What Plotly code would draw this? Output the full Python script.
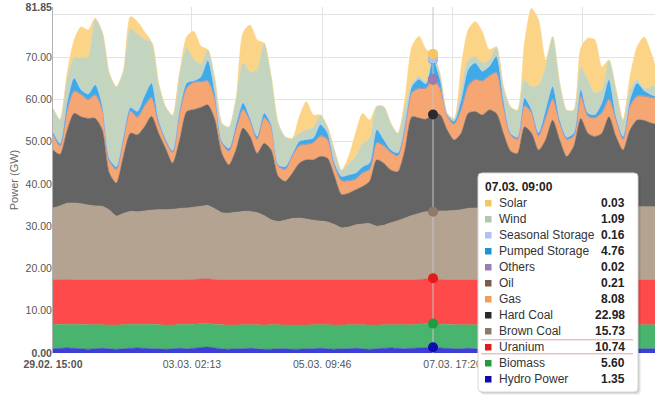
import numpy as np
import pandas as pd
import plotly.graph_objects as go

# ---------------- data (GW, 3-hourly from 29.02. 15:00) ----------------
START = "2020-02-29 15:00"
END = "2020-03-11 07:38"
N_POINTS = 87
times = pd.date_range(START, periods=N_POINTS, freq="3h")
CURSOR = 54  # 07.03. 09:00

hydro = [1.0, 1.1, 1.2, 1.1, 1.0, 0.9, 1.0, 1.1, 1.0, 0.9,
         1.0, 1.1, 1.2, 1.1, 1.0, 1.0, 0.9, 1.0, 1.1, 1.0,
         1.1, 1.3, 1.4, 1.2, 1.0, 0.9, 1.0, 1.0, 1.1, 1.0,
         0.9, 0.9, 1.0, 1.0, 0.9, 0.9, 1.0, 1.0, 1.1, 1.0,
         0.9, 1.0, 1.0, 1.1, 1.0, 0.9, 1.0, 1.1, 1.2, 1.1,
         1.0, 1.1, 1.2, 1.3, 1.35, 1.2, 1.1, 1.0, 1.0, 1.1,
         1.0, 1.0, 0.9, 1.0, 1.0, 1.1, 1.0, 1.0, 0.9, 1.0,
         1.0, 1.1, 1.0, 1.0, 1.0, 1.1, 1.0, 0.9, 1.0, 1.0,
         1.1, 1.0, 1.0, 0.9, 1.0, 1.0, 1.0]

biomass = [5.7, 5.7, 5.6, 5.7, 5.8, 5.8, 5.7, 5.6, 5.6, 5.7,
           5.7, 5.7, 5.6, 5.7, 5.8, 5.7, 5.7, 5.6, 5.7, 5.8,
           5.7, 5.6, 5.6, 5.6, 5.7, 5.7, 5.6, 5.7, 5.6, 5.7,
           5.7, 5.8, 5.7, 5.6, 5.7, 5.7, 5.6, 5.7, 5.6, 5.7,
           5.7, 5.6, 5.7, 5.6, 5.7, 5.7, 5.6, 5.6, 5.5, 5.6,
           5.7, 5.6, 5.6, 5.6, 5.60, 5.6, 5.7, 5.7, 5.7, 5.6,
           5.7, 5.7, 5.8, 5.7, 5.7, 5.6, 5.7, 5.7, 5.8, 5.7,
           5.7, 5.6, 5.7, 5.7, 5.7, 5.6, 5.7, 5.8, 5.7, 5.7,
           5.6, 5.7, 5.7, 5.8, 5.7, 5.7, 5.7]

uranium = [10.6, 10.5, 10.6, 10.5, 10.5, 10.6, 10.6, 10.6, 10.7, 10.7,
           10.6, 10.5, 10.5, 10.5, 10.5, 10.6, 10.7, 10.7, 10.5, 10.5,
           10.6, 10.6, 10.5, 10.6, 10.6, 10.7, 10.7, 10.6, 10.6, 10.6,
           10.7, 10.6, 10.6, 10.7, 10.7, 10.7, 10.7, 10.6, 10.6, 10.6,
           10.7, 10.7, 10.6, 10.6, 10.6, 10.7, 10.7, 10.6, 10.6, 10.6,
           10.6, 10.6, 10.6, 10.6, 10.74, 10.6, 10.5, 10.6, 10.6, 10.6,
           10.6, 10.6, 10.6, 10.6, 10.6, 10.6, 10.6, 10.6, 10.6, 10.6,
           10.6, 10.6, 10.6, 10.6, 10.6, 10.6, 10.6, 10.6, 10.6, 10.6,
           10.6, 10.6, 10.6, 10.6, 10.6, 10.6, 10.6]

brown_coal = [17.0, 17.5, 18.0, 18.2, 18.0, 17.7, 17.5, 17.4, 16.5, 15.1,
              15.7, 16.2, 16.1, 16.3, 16.5, 16.6, 16.6, 16.7, 16.9, 17.0,
              17.1, 17.2, 17.4, 16.7, 15.9, 15.8, 16.0, 16.2, 16.2, 15.9,
              15.2, 14.2, 13.8, 14.1, 14.5, 14.6, 14.4, 14.1, 13.9, 13.7,
              13.1, 12.3, 12.5, 13.0, 13.2, 13.3, 12.7, 12.9, 13.5, 14.0,
              14.6, 15.2, 15.6, 15.9, 15.73, 16.2, 16.3, 16.4, 16.6, 16.9,
              17.0, 17.0, 17.0, 17.1, 17.1, 17.1, 17.1, 17.2, 17.2, 17.2,
              17.2, 17.2, 17.2, 17.2, 17.2, 17.2, 17.3, 17.3, 17.3, 17.3,
              17.3, 17.3, 17.3, 17.3, 17.3, 17.3, 17.3]

hard_coal = [13.7, 12.2, 17.2, 21.2, 20.6, 20.5, 20.7, 18.1, 8.8, 7.8,
             13.5, 18.5, 18.2, 19.9, 22.2, 18.1, 14.5, 10.9, 16.2, 22.8,
             23.1, 23.4, 23.8, 21.1, 14.0, 11.4, 14.7, 19.7, 17.7, 14.0,
             17.1, 16.5, 10.7, 9.2, 10.7, 13.0, 14.0, 14.3, 15.3, 15.1,
             11.4, 7.9, 8.0, 8.3, 8.9, 10.0, 15.7, 14.7, 12.5, 11.6,
             16.1, 23.4, 22.6, 21.9, 22.98, 22.8, 19.2, 16.7, 18.1, 22.5,
             22.8, 22.0, 23.2, 22.3, 17.6, 13.4, 12.8, 19.0, 17.5, 13.5,
             15.9, 20.6, 15.9, 12.0, 14.4, 21.0, 17.4, 16.6, 17.4, 21.3,
             16.6, 13.4, 18.2, 20.5, 20.4, 19.8, 19.4]

gas = [3.6, 1.8, 4.5, 5.1, 5.1, 4.3, 5.4, 4.7, 2.7, 3.1,
       3.9, 5.1, 4.0, 4.8, 4.3, 2.4, 1.6, 2.4, 6.3, 5.5,
       6.3, 5.9, 5.5, 4.8, 2.4, 3.1, 4.8, 4.3, 3.6, 3.2,
       5.9, 5.5, 2.3, 2.7, 4.0, 4.0, 3.5, 3.9, 4.7, 4.3,
       2.3, 3.1, 2.8, 2.4, 3.1, 2.7, 3.9, 4.0, 4.0, 3.6,
       5.0, 5.6, 6.8, 7.2, 8.08, 6.0, 3.1, 3.6, 5.5, 6.3,
       7.5, 7.9, 7.9, 9.5, 6.3, 3.7, 3.2, 4.8, 4.7, 3.2,
       5.1, 4.8, 4.0, 3.9, 2.3, 5.1, 3.9, 4.3, 4.7, 4.0,
       3.9, 2.4, 5.5, 5.5, 5.6, 5.9, 6.0]

oil = [0.2, 0.2, 0.2, 0.2, 0.2, 0.2, 0.2, 0.2, 0.2, 0.2,
       0.2, 0.2, 0.2, 0.2, 0.2, 0.2, 0.2, 0.2, 0.2, 0.2,
       0.2, 0.2, 0.2, 0.2, 0.2, 0.2, 0.2, 0.2, 0.2, 0.2,
       0.2, 0.2, 0.2, 0.2, 0.2, 0.2, 0.2, 0.2, 0.2, 0.2,
       0.2, 0.2, 0.2, 0.2, 0.2, 0.2, 0.2, 0.2, 0.2, 0.2,
       0.2, 0.2, 0.2, 0.2, 0.21, 0.2, 0.2, 0.2, 0.2, 0.2,
       0.2, 0.2, 0.2, 0.2, 0.2, 0.2, 0.2, 0.2, 0.2, 0.2,
       0.2, 0.2, 0.2, 0.2, 0.2, 0.2, 0.2, 0.2, 0.2, 0.2,
       0.2, 0.2, 0.2, 0.2, 0.2, 0.2, 0.2]

others = [0.02] * 54 + [0.02] + [0.02] * 32

pumped_storage = [0.5, 0.5, 1.8, 3.0, 1.0, 1.2, 2.3, 0.8, 0.5, 0.5,
                  0.6, 0.7, 1.3, 2.2, 3.3, 0.5, 0.4, 0.3, 0.6, 1.0,
                  0.2, 1.0, 4.8, 1.3, 0.2, 0.6, 1.0, 1.4, 0.5, 0.6,
                  1.0, 0.3, 0.2, 0.5, 0.3, 0.9, 1.0, 1.0, 2.6, 1.4,
                  0.6, 0.9, 1.3, 1.3, 1.3, 1.4, 3.0, 1.3, 0.5, 0.6,
                  0.8, 1.3, 2.1, 0.9, 4.76, 2.1, 0.2, 0.6, 2.2, 3.8,
                  3.8, 2.2, 2.1, 3.7, 1.4, 0.3, 0.4, 1.8, 0.6, 0.6,
                  1.8, 2.9, 0.6, 0.4, 0.6, 1.5, 0.6, 0.6, 2.2, 4.5,
                  0.6, 0.6, 1.4, 3.0, 1.2, 0.5, 0.2]

seasonal_storage = [0.15, 0.15, 0.2, 0.2, 0.15, 0.15, 0.2, 0.15, 0.1, 0.1,
                    0.15, 0.15, 0.15, 0.2, 0.2, 0.15, 0.1, 0.1, 0.15, 0.2,
                    0.2, 0.2, 0.2, 0.15, 0.1, 0.1, 0.15, 0.2, 0.15, 0.15,
                    0.15, 0.1, 0.1, 0.1, 0.1, 0.15, 0.15, 0.15, 0.2, 0.15,
                    0.1, 0.1, 0.1, 0.15, 0.15, 0.15, 0.2, 0.15, 0.1, 0.1,
                    0.15, 0.2, 0.2, 0.15, 0.16, 0.15, 0.1, 0.1, 0.15, 0.2,
                    0.2, 0.2, 0.2, 0.2, 0.15, 0.1, 0.1, 0.15, 0.15, 0.15,
                    0.15, 0.2, 0.15, 0.1, 0.1, 0.15, 0.15, 0.15, 0.15, 0.2,
                    0.15, 0.1, 0.15, 0.2, 0.15, 0.15, 0.15]

wind = [5.4, 5.5, 5.4, 4.6, 7.4, 8.7, 15.3, 17.2, 20.0, 18.8,
        15.2, 18.6, 18.2, 13.2, 9.5, 8.5, 7.5, 8.3, 8.5, 8.2,
        4.9, 3.0, 2.3, 3.0, 4.2, 4.9, 5.7, 9.3, 10.9, 15.6,
        16.4, 11.2, 9.7, 7.0, 3.6, 1.8, 2.2, 2.5, 2.1, 1.3,
        2.9, 1.4, 2.6, 3.8, 5.4, 5.7, 5.3, 7.7, 6.2, 4.5,
        3.8, 0.6, 0.6, 0.6, 1.09, 1.0, 0.3, 0.5, 2.2, 2.1,
        1.3, 1.8, 1.4, 2.1, 2.9, 6.1, 6.3, 4.1, 5.3, 11.2,
        10.0, 11.6, 8.4, 6.3, 5.3, 5.2, 7.7, 5.0, 3.0, 4.5,
        6.2, 3.7, 2.2, 0.6, 0.4, 1.8, 3.2]

solar = [0.0, 0.0, 1.4, 4.2, 7.4, 6.3, 0.3, 0.0, 0.0, 0.0,
         0.0, 2.8, 2.9, 1.9, 0.0, 0.0, 0.0, 0.0, 0.0, 2.6,
         6.7, 4.2, 0.0, 0.0, 0.0, 0.0, 0.0, 7.1, 11.0, 7.1,
         0.0, 0.0, 0.0, 0.0, 0.0, 3.9, 6.7, 2.8, 0.0, 0.0,
         0.0, 0.0, 1.6, 5.5, 7.1, 4.3, 0.0, 0.0, 0.0, 0.0,
         2.0, 8.6, 9.4, 7.5, 0.03, 0.0, 0.0, 0.0, 5.4, 7.1,
         8.3, 7.4, 2.4, 0.0, 0.0, 0.0, 0.0, 8.7, 18.5, 15.4,
         1.6, 0.0, 0.0, 0.0, 0.0, 4.5, 9.9, 12.6, 5.4, 0.0,
         0.0, 0.0, 3.1, 7.8, 12.2, 8.0, 1.6]

Y_MAX = 81.85
y_tick_vals = [0, 10, 20, 30, 40, 50, 60, 70, 81.85]
y_tick_text = ["<b>0.00</b>", "10.00", "20.00", "30.00", "40.00", "50.00",
               "60.00", "70.00", "<b>81.85</b>"]
x_tick_vals = ["2020-02-29 15:00", "2020-03-03 02:13", "2020-03-05 09:46",
               "2020-03-07 17:20", "2020-03-10 00:53"]
# the last tick label is hidden behind the tooltip in the reference
x_tick_text = ["<b>29.02. 15:00</b>", "03.03. 02:13", "05.03. 09:46",
               "07.03. 17:20", ""]
tooltip_title = "07.03. 09:00"

# (name, values, area colour, legend/marker colour) bottom -> top
series = [
    ("Hydro Power", hydro, "#3e3ed6", "#0c0cb0"),
    ("Biomass", biomass, "#49b46d", "#1f9c3f"),
    ("Uranium", uranium, "#fe4a4a", "#e21a1a"),
    ("Brown Coal", brown_coal, "#b4a391", "#8d7a68"),
    ("Hard Coal", hard_coal, "#646464", "#2b2b2b"),
    ("Gas", gas, "#f6a673", "#f29e5a"),
    ("Oil", oil, "#9a8070", "#7a5c48"),
    ("Others", others, "#b39cc9", "#9a7db8"),
    ("Pumped Storage", pumped_storage, "#3eaae6", "#1c93d2"),
    ("Seasonal Storage", seasonal_storage, "#bccdf6", "#adc3f3"),
    ("Wind", wind, "#c3d4bf", "#b3c8b0"),
    ("Solar", solar, "#fcd488", "#f7c660"),
]

FONT = "Liberation Sans, Arial, sans-serif"
fig = go.Figure()
for name, vals, fillc, _ in series:
    fig.add_trace(go.Scatter(
        x=times, y=vals, name=name, stackgroup="one", mode="lines",
        line=dict(width=0.6, color=fillc, shape="spline", smoothing=0.7),
        fillcolor=fillc, hoverinfo="skip", showlegend=False))

# cursor line and hover dots
cur_t = times[CURSOR]
fig.add_trace(go.Scatter(x=[cur_t, cur_t], y=[0, Y_MAX], mode="lines",
                         line=dict(color="#c4c4c4", width=1),
                         hoverinfo="skip", showlegend=False))
cum = np.cumsum([s[1][CURSOR] for s in series])
fig.add_trace(go.Scatter(x=[cur_t] * len(series), y=cum, mode="markers",
                         marker=dict(size=10, color=[s[3] for s in series]),
                         hoverinfo="skip", showlegend=False))

# ---------------- layout ----------------
ML, MT, MR, MB = 53, 7, 0, 46
W, H = 655, 399
PW, PH = W - ML - MR, H - MT - MB


def px(x):
    return (x - ML) / PW


def py(y):
    return (MT + PH - y) / PH


shapes = []
annotations = []


def rounded(x0, y0, x1, y1, r):
    return (f"M {px(x0 + r)},{py(y0)} L {px(x1 - r)},{py(y0)} "
            f"Q {px(x1)},{py(y0)} {px(x1)},{py(y0 + r)} "
            f"L {px(x1)},{py(y1 - r)} Q {px(x1)},{py(y1)} {px(x1 - r)},{py(y1)} "
            f"L {px(x0 + r)},{py(y1)} Q {px(x0)},{py(y1)} {px(x0)},{py(y1 - r)} "
            f"L {px(x0)},{py(y0 + r)} Q {px(x0)},{py(y0)} {px(x0 + r)},{py(y0)} Z")


BX0, BY0, BX1, BY1 = 478, 173, 638, 392
for k, a in ((3, 0.05), (2, 0.07), (1, 0.09)):
    shapes.append(dict(type="path", xref="paper", yref="paper", layer="above",
                       path=rounded(BX0 + k, BY0 + k, BX1 + k, BY1 + k, 4),
                       fillcolor=f"rgba(0,0,0,{a})", line=dict(width=0)))
shapes.append(dict(type="path", xref="paper", yref="paper", layer="above",
                   path=rounded(BX0, BY0, BX1, BY1, 4),
                   fillcolor="#ffffff", line=dict(color="#d6d6d6", width=1)))

annotations.append(dict(xref="paper", yref="paper", x=px(483), y=py(187),
                        xanchor="left", yanchor="middle", showarrow=False,
                        text=f"<b>{tooltip_title}</b>",
                        font=dict(family=FONT, size=12, color="#222")))

ROW0, ROW_H = 203.3, 16
for row, (name, vals, _, legc) in enumerate(reversed(series)):
    yc = ROW0 + row * ROW_H
    shapes.append(dict(type="rect", xref="paper", yref="paper", layer="above",
                       x0=px(485), x1=px(491.5), y0=py(yc - 3.3), y1=py(yc + 3.2),
                       fillcolor=legc, line=dict(width=0)))
    annotations.append(dict(xref="paper", yref="paper", x=px(497), y=py(yc),
                            xanchor="left", yanchor="middle", showarrow=False,
                            text=name, font=dict(family=FONT, size=12, color="#333")))
    annotations.append(dict(xref="paper", yref="paper", x=px(627), y=py(yc),
                            xanchor="right", yanchor="middle", showarrow=False,
                            text=f"<b>{vals[CURSOR]:.2f}</b>",
                            font=dict(family=FONT, size=12, color="#222")))
    if name == "Uranium":
        for yl in (yc - 7.5, yc + 6.5):
            shapes.append(dict(type="line", xref="paper", yref="paper", layer="above",
                               x0=px(481), x1=px(633), y0=py(yl), y1=py(yl),
                               line=dict(color="#e6a3a3", width=1)))

fig.update_layout(
    width=W, height=H,
    margin=dict(l=ML, r=MR, t=MT, b=MB, pad=0, autoexpand=False),
    paper_bgcolor="#ffffff", plot_bgcolor="#ffffff",
    font=dict(family=FONT, size=11, color="#666"),
    shapes=shapes, annotations=annotations, showlegend=False,
    hovermode=False,
)
fig.update_xaxes(
    type="date", range=[START, END], tickmode="array",
    tickvals=x_tick_vals, ticktext=x_tick_text,
    tickfont=dict(family=FONT, size=10.5, color="#555"),
    showgrid=True, gridcolor="#e3e3e3", gridwidth=1,
    ticks="", showline=False, zeroline=False, automargin=False,
    ticklabelstandoff=3,
)
fig.update_yaxes(
    range=[0, Y_MAX], tickmode="array", tickvals=y_tick_vals, ticktext=y_tick_text,
    tickfont=dict(family=FONT, size=10.5, color="#555"),
    showgrid=False, ticks="", zeroline=False, automargin=False,
    minor=dict(tickmode="array", tickvals=[10, 20, 30, 40, 50, 60, 70, 80],
               showgrid=True, gridcolor="#e3e3e3", gridwidth=1, ticks=""),
    showline=True, linecolor="#b0b0b0", linewidth=1,
    title=dict(text="Power (GW)", standoff=4,
               font=dict(family=FONT, size=11, color="#666")),
    ticklabelstandoff=-2,
)

fig.write_html("out.html", config={"displayModeBar": False},
               post_script="document.body.style.margin='0';"
                           "document.body.style.overflow='hidden';")
